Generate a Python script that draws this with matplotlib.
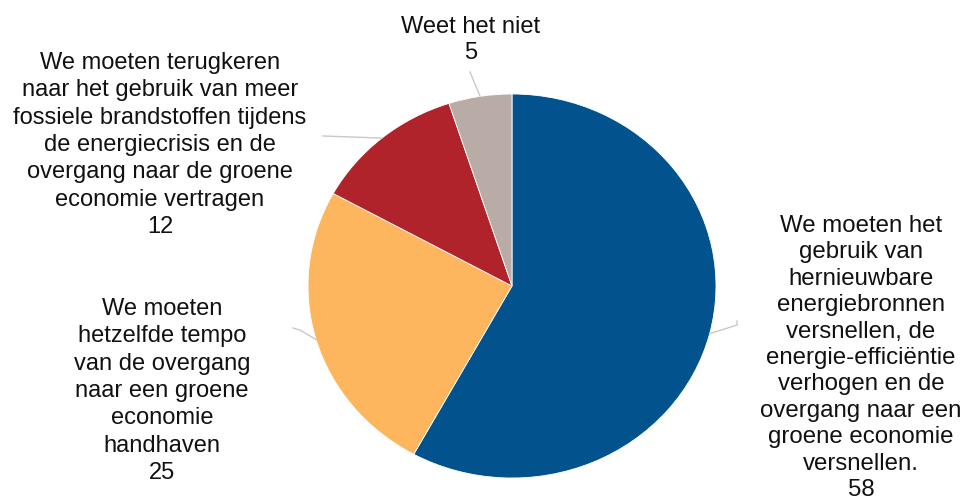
import numpy as np
import matplotlib
matplotlib.use("Agg")
import matplotlib.pyplot as plt

# ---- data ----
categories = [
    "We moeten het\ngebruik van\nhernieuwbare\nenergiebronnen\nversnellen, de\nenergie-efficiëntie\nverhogen en de\novergang naar een\ngroene economie\nversnellen.",
    "We moeten\nhetzelfde tempo\nvan de overgang\nnaar een groene\neconomie\nhandhaven",
    "We moeten terugkeren\nnaar het gebruik van meer\nfossiele brandstoffen tijdens\nde energiecrisis en de\novergang naar de groene\neconomie vertragen",
    "Weet het niet",
]
values = [58, 25, 12, 5]
colors = ["#01528D", "#FDB55E", "#B1232A", "#B9ACA6"]

W, H = 965, 503
fig = plt.figure(figsize=(W / 100, H / 100), dpi=100)
plt.rcParams['font.family'] = ['Liberation Sans', 'DejaVu Sans']

# pie bounding box in pixels (left, top, right, bottom)
pl, pt, pr, pb = 308, 94, 716, 478
ax = fig.add_axes([pl / W, 1 - pb / H, (pr - pl) / W, (pb - pt) / H])
wedges, _ = ax.pie(values, colors=colors, startangle=90, counterclock=False,
                   radius=1, wedgeprops=dict(edgecolor="white", linewidth=0.6))
ax.set_aspect('auto')
ax.set_xlim(-1, 1)
ax.set_ylim(-1, 1)
ax.axis('off')

cx, cy = (pl + pr) / 2, (pt + pb) / 2
rx, ry = (pr - pl) / 2, (pb - pt) / 2

def fx(x):
    return x / W

def fy(y):
    return 1 - y / H

# label centres (pixels), leader end points, font sizes and spacing
label_pos = [(861, 358), (162, 391), (160, 145), (471, 40)]
leader_end = [[(737, 325), (737, 321)], [(300, 330), (293, 328)], [(323, 136)], [(470, 72)]]
label_size = [17.3, 17, 17, 17]
label_ls = [1.26, 1.31, 1.31, 1.28]

for i, (w, cat, val) in enumerate(zip(wedges, categories, values)):
    mid = np.deg2rad((w.theta1 + w.theta2) / 2)
    ex = cx + rx * np.cos(mid)
    ey = cy - ry * np.sin(mid)
    pts = [(ex, ey)] + leader_end[i]
    xs = [fx(p[0]) for p in pts]
    ys = [fy(p[1]) for p in pts]
    fig.add_artist(plt.Line2D(xs, ys, color="#C9C9C9", lw=1.0, transform=fig.transFigure))
    lx, ly = label_pos[i]
    fig.text(fx(lx), fy(ly), f"{cat}\n{val}", ha="center", va="center",
             fontsize=label_size[i], color="#111111", linespacing=label_ls[i])

fig.savefig("out.png", dpi=100)
